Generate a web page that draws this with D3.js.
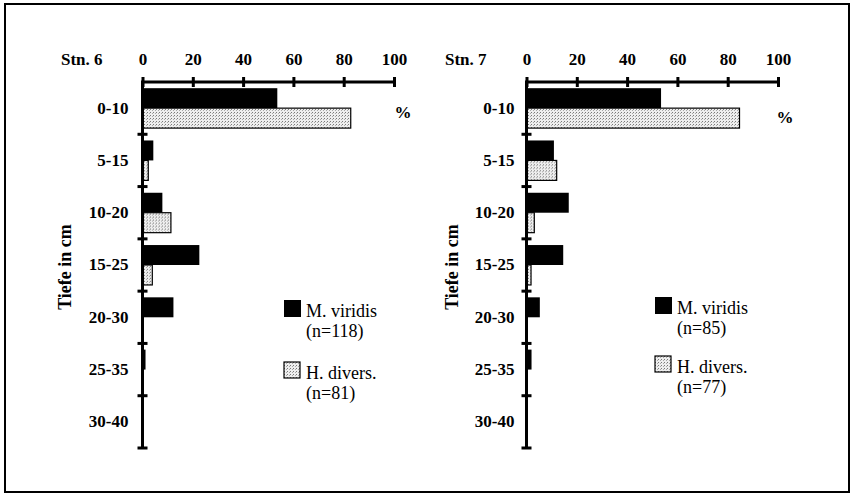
<!DOCTYPE html>
<html>
<head>
<meta charset="utf-8">
<script src="https://cdn.jsdelivr.net/npm/d3@7"></script>
<style>
  body { margin: 0; background: #fff; }
  svg { display: block; }
  text { font-family: "Liberation Serif", "Times New Roman", serif; fill: #000; }
</style>
</head>
<body>
<svg width="852" height="495"></svg>
<script>
// Data (percent of individuals per depth layer)
var depths = ["0-10", "5-15", "10-20", "15-25", "20-30", "25-35", "30-40"];
var xTicks = [0, 20, 40, 60, 80, 100];
var seriesNames = ["M. viridis", "H. divers."];

var stn6Viridis = [53.6, 4.3, 7.9, 22.6, 12.3, 1.2, 0];
var stn6Divers = [82.8, 2.3, 11.3, 3.9, 0, 0, 0];
var stn6Counts = ["(n=118)", "(n=81)"];

var stn7Viridis = [53.5, 10.9, 16.8, 14.6, 5.3, 2.0, 0];
var stn7Divers = [84.7, 12.0, 3.1, 1.8, 0, 0, 0];
var stn7Counts = ["(n=85)", "(n=77)"];

// Layout constants
var AXIS_TOP = 82;
var AXIS_BOTTOM = 448;
var AXIS_WIDTH = 251.5;
var SERIF = "Liberation Serif";

var svg = d3.select("svg");

// stipple pattern for H. divers.
var defs = svg.append("defs");
var pat = defs.append("pattern")
  .attr("id", "stipple")
  .attr("patternUnits", "userSpaceOnUse")
  .attr("width", 3)
  .attr("height", 3);
pat.append("rect").attr("width", 3).attr("height", 3).attr("fill", "#eeeeee");
pat.append("rect").attr("x", 0).attr("y", 0).attr("width", 1).attr("height", 1).attr("fill", "#7a7a7a");
pat.append("rect").attr("x", 2).attr("y", 1).attr("width", 1).attr("height", 1).attr("fill", "#a8a8a8");

// outer frame
svg.append("rect")
  .attr("x", 5).attr("y", 4)
  .attr("width", 844).attr("height", 488)
  .attr("fill", "none")
  .attr("stroke", "#000")
  .attr("stroke-width", 2);

var panels = [
  { title: "Stn. 6", x0: 142.5, viridis: stn6Viridis, divers: stn6Divers, counts: stn6Counts,
    pctX: 403, pctY: 118, legX: 284, legY: 300, legGap: 62, labOff: 14, yTitleX: 65 },
  { title: "Stn. 7", x0: 526.5, viridis: stn7Viridis, divers: stn7Divers, counts: stn7Counts,
    pctX: 785, pctY: 123, legX: 655, legY: 297, legGap: 59, labOff: 12, yTitleX: 452 }
];

panels.forEach(function(p) { drawPanel(p); });

function addText(sel, size, bold) {
  return sel.attr("font-family", SERIF)
    .style("font-family", SERIF)
    .style("font-size", size + "px")
    .style("font-weight", bold ? "bold" : "normal");
}

function drawPanel(p) {
  var g = svg.append("g");

  var x = d3.scaleLinear()
    .domain([0, 100])
    .range([p.x0, p.x0 + AXIS_WIDTH]);

  var y = d3.scaleBand()
    .domain(depths)
    .range([AXIS_TOP, AXIS_BOTTOM]);

  var ySub = d3.scaleBand()
    .domain(seriesNames)
    .range([0, y.bandwidth()])
    .paddingOuter(0.31);

  var rows = depths.map(function(d, i) {
    return { depth: d, values: [p.viridis[i], p.divers[i]] };
  });

  // bars
  var rowG = g.selectAll("g.row")
    .data(rows)
    .enter().append("g")
    .attr("class", "row")
    .attr("transform", function(d) { return "translate(0," + y(d.depth) + ")"; });

  rowG.selectAll("rect")
    .data(function(d) {
      return d.values
        .map(function(v, k) { return { name: seriesNames[k], value: v }; })
        .filter(function(e) { return e.value > 0; });
    })
    .enter().append("rect")
    .attr("x", x(0))
    .attr("y", function(d) { return ySub(d.name); })
    .attr("width", function(d) { return x(d.value) - x(0); })
    .attr("height", ySub.bandwidth())
    .attr("fill", function(d) { return d.name === seriesNames[0] ? "#000" : "url(#stipple)"; })
    .attr("stroke", function(d) { return d.name === seriesNames[0] ? "none" : "#000"; })
    .attr("stroke-width", 1.2);

  // top axis, ticks crossing the line
  var xAxis = g.append("g")
    .attr("transform", "translate(0," + AXIS_TOP + ")")
    .call(d3.axisTop(x).tickValues(xTicks).tickSize(4).tickSizeOuter(0));
  xAxis.select(".domain").remove();
  xAxis.selectAll(".tick line").remove();
  xAxis.selectAll(".tick").append("rect")
    .attr("x", -1.5).attr("y", -5)
    .attr("width", 3).attr("height", 10)
    .attr("fill", "#000");
  addText(xAxis.selectAll(".tick text").attr("y", -17).attr("dy", 0), 17, true);

  // left axis with depth labels
  var yAxis = g.append("g")
    .attr("transform", "translate(" + x(0) + ",0)")
    .call(d3.axisLeft(y).tickSize(0).tickPadding(p.labOff));
  yAxis.select(".domain").remove();
  addText(yAxis.selectAll(".tick text"), 17, true);

  // both axis lines as one path
  g.append("path")
    .attr("d", "M" + (x(100) + 1) + "," + AXIS_TOP + "H" + x(0) + "V" + (AXIS_BOTTOM + 1))
    .attr("fill", "none")
    .attr("stroke", "#000")
    .attr("stroke-width", 3);

  // band boundary ticks
  var bounds = depths.slice(1).map(function(d) { return y(d); }).concat([AXIS_BOTTOM]);
  g.selectAll("rect.ytick")
    .data(bounds)
    .enter().append("rect")
    .attr("class", "ytick")
    .attr("x", x(0) - 5).attr("y", function(d) { return d - 1.5; })
    .attr("width", 10).attr("height", 3)
    .attr("fill", "#000");

  // station title
  addText(g.append("text")
    .attr("x", x(0) - 81.5)
    .attr("y", AXIS_TOP - 17), 17, true)
    .text(p.title);

  // percent sign
  addText(g.append("text")
    .attr("x", p.pctX)
    .attr("y", p.pctY)
    .attr("text-anchor", "middle"), 17, true)
    .text("%");

  // y title
  addText(g.append("text")
    .attr("transform", "translate(" + (p.yTitleX + 6) + ",267) rotate(-90)")
    .attr("text-anchor", "middle"), 18, true)
    .text("Tiefe in cm");

  // legend
  var leg = g.selectAll("g.leg")
    .data(seriesNames)
    .enter().append("g")
    .attr("class", "leg")
    .attr("transform", function(d, i) { return "translate(" + p.legX + "," + (p.legY + i * p.legGap) + ")"; });

  leg.append("rect")
    .attr("width", function(d, i) { return i === 0 ? 17 : 16; })
    .attr("height", function(d, i) { return i === 0 ? 17 : 16; })
    .attr("fill", function(d, i) { return i === 0 ? "#000" : "url(#stipple)"; })
    .attr("stroke", function(d, i) { return i === 0 ? "none" : "#000"; })
    .attr("stroke-width", 1.2);

  addText(leg.append("text")
    .attr("x", 22)
    .attr("y", 17), 18, false)
    .text(function(d) { return d; });

  addText(leg.append("text")
    .attr("x", 22)
    .attr("y", 37), 18, false)
    .text(function(d, i) { return p.counts[i]; });
}
</script>
</body>
</html>
